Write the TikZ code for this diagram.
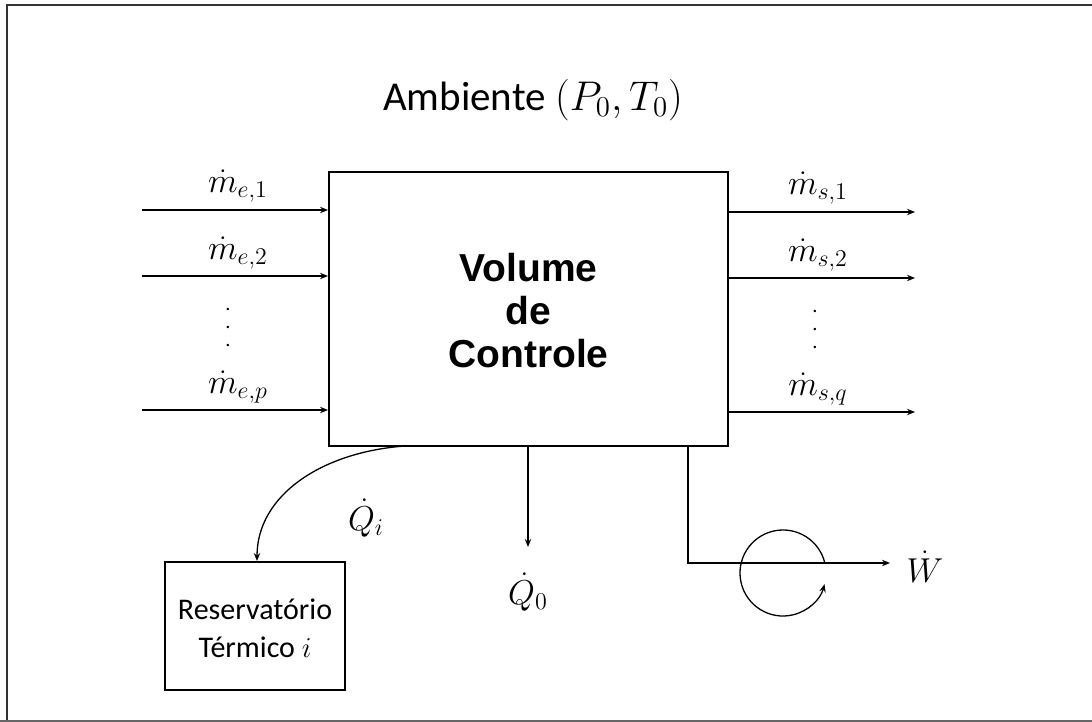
\documentclass[tikz,border=0pt]{standalone}
\usepackage{fontspec}
\setmainfont{Carlito}
\newfontfamily\boxfont{Liberation Sans}
\usetikzlibrary{arrows.meta,calc}
\begin{document}
\begin{tikzpicture}[x=0.5pt,y=-0.5pt,
  flow/.style={line width=0.65pt,-{Stealth[length=4pt,width=3.2pt]}},
  boxline/.style={draw,line width=1pt},
  mlabel/.style={font=\fontsize{16.5}{18}\selectfont},
  dotsty/.style={align=center,inner sep=0pt,font=\fontsize{12}{9}\selectfont}]
\useasboundingbox (0,0) rectangle (1092,722);
\draw[line width=1.2pt,black!80] (7,721) -- (7,5) -- (1095,5);
\draw[line width=1.2pt,black!60] (0,721) -- (1092,721);
\node[font=\fontsize{20.5}{24}\selectfont] (amb) at (533,100) {Ambiente $(P_0,T_0)$};
\node[boxline,minimum width=199.5pt,minimum height=137pt,inner sep=0pt] (cv) at (528.5,309) {};
\node[align=center,font=\boxfont\bfseries\fontsize{19.5}{19.5}\selectfont] (cvt) at (528.5,311) {Volume\\[2pt]de\\[2pt]Controle};
% inputs
\coordinate (i1) at (142,210);
\coordinate (i2) at (142,276);
\coordinate (i3) at (142,410);
\draw[flow] (i1) -- (i1 -| cv.west);
\draw[flow] (i2) -- (i2 -| cv.west);
\draw[flow] (i3) -- (i3 -| cv.west);
\node[mlabel] (li1) at (238,186) {$\dot m_{e,1}$};
\node[mlabel] (li2) at (238,253) {$\dot m_{e,2}$};
\node[mlabel] (li3) at (238,387) {$\dot m_{e,p}$};
\node[dotsty] (di) at (228,328) {$\cdot$\\$\cdot$\\$\cdot$};
% outputs
\coordinate (o1) at (915,212);
\coordinate (o2) at (915,278);
\coordinate (o3) at (915,412);
\draw[flow] (o1 -| cv.east) -- (o1);
\draw[flow] (o2 -| cv.east) -- (o2);
\draw[flow] (o3 -| cv.east) -- (o3);
\node[mlabel] (lo1) at (818,188) {$\dot m_{s,1}$};
\node[mlabel] (lo2) at (818,255) {$\dot m_{s,2}$};
\node[mlabel] (lo3) at (818,389) {$\dot m_{s,q}$};
\node[dotsty] (do) at (815,330) {$\cdot$\\$\cdot$\\$\cdot$};
% reservoir
\node[boxline,minimum width=90pt,minimum height=64pt,inner sep=0pt] (res) at (255,626) {};
\node[align=center,font=\fontsize{15}{19}\selectfont] (rest) at (255,628) {Reservatório\\Térmico $i$};
\coordinate (qs) at (405,446);
\draw[flow] (qs) .. controls (322,452) and (257,495) .. (res.north -| 257,0);
\node[mlabel] (qi) at (366,518) {$\dot Q_i$};
% Q0
\coordinate (q0s) at (528,446);
\coordinate (q0e) at (528,547);
\draw[flow] (q0s) -- (q0e);
\node[mlabel] (q0) at (528,592) {$\dot Q_0$};
% work
\coordinate (ws) at (688,446);
\coordinate (wc) at (688,563);
\coordinate (we) at (890,563);
\draw[flow] (ws) -- (wc) -- (we);
\node[mlabel] (wl) at (925,567) {$\dot W$};
\coordinate (circ) at (783,573);
\draw[flow] ($(circ)+(-13:43)$) arc[start angle=-13,end angle=-345,radius=43];
\end{tikzpicture}
\end{document}
